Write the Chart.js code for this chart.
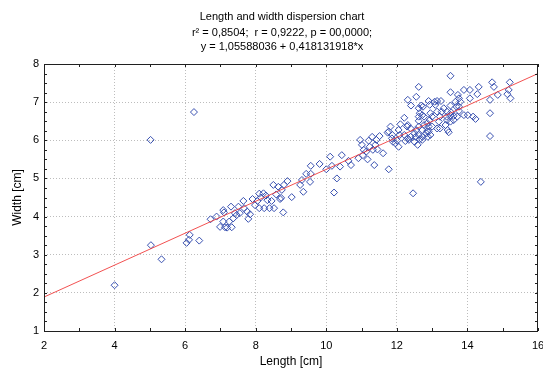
<!doctype html>
<html>
<head>
<title>Length and width dispersion chart</title>
<script src="https://cdn.jsdelivr.net/npm/chart.js@4.4.0/dist/chart.umd.min.js"></script>
<style>body{margin:0;background:#fff}</style>
</head>
<body>
<canvas id="canvas" width="543" height="370"></canvas>
<script>
var titleLines = [
	"Length and width dispersion chart",
	"r\u00b2 = 0,8504;  r = 0,9222, p = 00,0000;",
	"y = 1,05588036 + 0,418131918*x"
];

// length [cm]
var lengthCm = [
	4.00, 5.03, 5.33, 5.02, 6.25, 6.04, 6.11, 6.13, 6.40, 6.72, 6.89, 6.99, 7.08, 7.08, 7.13, 7.10,
	7.19, 7.25, 7.30, 7.32, 7.36, 7.41, 7.46, 7.51, 7.55, 7.65, 7.67, 7.76, 7.79, 7.84, 7.91, 7.98,
	8.05, 8.10, 8.10, 8.14, 8.22, 8.24, 8.29, 8.33, 8.39, 8.45, 8.50, 8.52, 8.58, 8.64, 8.69, 8.78,
	8.80, 8.90, 8.72, 8.74, 9.02, 9.26, 9.31, 9.35, 9.43, 9.54, 9.56, 9.56, 9.81, 10.00, 10.11, 10.16,
	10.22, 10.30, 10.39, 10.44, 10.63, 10.70, 10.91, 10.96, 11.01, 11.04, 11.06, 11.13, 11.17, 11.20, 11.23, 11.30,
	11.32, 11.36, 11.39, 11.42, 11.45, 11.51, 11.61, 11.74, 11.77, 11.82, 11.87, 11.96, 12.01, 12.05, 12.05, 12.46,
	14.38, 13.52, 12.62, 12.31, 12.55, 12.40, 12.62, 12.69, 12.74, 12.65, 12.72, 12.90, 12.93, 12.95, 13.07, 13.09,
	13.14, 13.25, 13.33, 13.42, 13.52, 13.52, 13.54, 13.66, 13.69, 13.73, 13.76, 13.80, 13.76, 13.90, 14.07, 14.07,
	14.28, 14.32, 14.64, 14.70, 14.75, 14.86, 15.13, 15.20, 15.22, 15.17, 14.64, 14.64, 13.90, 14.01, 14.16, 14.23,
	13.47, 13.52, 13.41, 13.42, 13.22, 13.27, 13.14, 13.00, 12.93, 12.77, 12.62, 12.62, 12.77, 12.86, 12.90, 13.00,
	12.86, 12.72, 12.62, 12.21, 12.10, 12.31, 12.39, 12.50, 12.55, 12.62, 12.65, 12.72, 12.84, 12.90, 12.95, 12.88,
	12.72, 12.53, 12.50, 12.59, 13.19, 13.38, 13.44, 13.61, 13.71, 13.76, 13.52, 13.61, 13.22, 13.14, 12.08, 11.86,
	12.31, 12.34, 12.21, 12.39, 11.89, 12.24, 11.77, 12.29
];

// width [cm]
var widthCm = [
	2.20, 3.25, 2.88, 6.01, 6.74, 3.31, 3.39, 3.52, 3.37, 3.93, 4.00, 3.73, 4.17, 3.87, 3.72, 4.11,
	3.71, 3.87, 4.26, 3.72, 3.95, 4.09, 4.04, 4.26, 4.09, 4.41, 4.22, 4.13, 3.94, 4.06, 4.46, 4.30,
	4.41, 4.60, 4.22, 4.50, 4.61, 4.22, 4.55, 4.43, 4.22, 4.41, 4.83, 4.22, 4.58, 4.78, 4.46, 4.11,
	4.83, 4.93, 4.49, 4.70, 4.51, 4.83, 4.96, 4.65, 5.12, 4.91, 5.12, 5.33, 5.38, 5.24, 5.57, 5.33,
	4.63, 5.00, 5.31, 5.61, 5.46, 5.35, 5.53, 6.01, 5.88, 5.61, 5.75, 5.70, 5.50, 5.99, 5.83, 6.09,
	5.75, 5.35, 5.88, 6.01, 5.76, 6.11, 5.66, 6.20, 5.24, 6.36, 6.14, 5.92, 5.99, 6.27, 5.83, 4.61,
	4.91, 7.69, 7.40, 7.06, 7.14, 6.91, 6.84, 6.91, 6.88, 6.71, 6.66, 7.03, 6.93, 6.71, 7.01, 6.93,
	7.03, 7.03, 6.84, 6.75, 7.26, 6.91, 6.73, 7.01, 6.88, 7.19, 7.10, 7.01, 6.88, 7.32, 7.32, 7.10,
	7.21, 7.40, 7.06, 7.52, 7.40, 7.19, 7.21, 7.52, 7.10, 7.32, 6.71, 6.11, 6.66, 6.66, 6.62, 6.56,
	6.21, 6.66, 6.62, 6.53, 6.62, 6.75, 6.75, 6.62, 6.53, 6.62, 6.62, 6.51, 6.40, 6.45, 6.36, 6.36,
	6.24, 6.27, 6.36, 6.59, 6.42, 6.40, 6.31, 6.18, 6.27, 6.14, 6.03, 6.01, 6.18, 6.23, 6.14, 6.09,
	6.09, 6.09, 5.96, 5.88, 6.49, 6.40, 6.27, 6.64, 6.62, 6.77, 6.49, 6.53, 6.31, 6.31, 6.14, 6.05,
	6.05, 6.01, 6.14, 6.09, 5.96, 5.98, 6.23, 6.36
];

// regression line end points
var fitX = [2, 16];
var fitY = [1.89, 7.75];

var xMin = 2, xMax = 16;
var yMin = 1, yMax = 8;

var scatterData = lengthCm.map(function(v, i){ return {x: v, y: widthCm[i]}; });
var fitData = fitX.map(function(v, i){ return {x: v, y: fitY[i]}; });

var framePlugin = {
	id: 'frame',
	afterDraw: function(chart){
		var ctx = chart.ctx, a = chart.chartArea;
		var xs = chart.scales.x, ys = chart.scales.y;
		ctx.save();
		ctx.strokeStyle = '#202020';
		ctx.lineWidth = 1;
		ctx.beginPath();
		for (var v = yMin; v <= yMax; v += 0.25) {
			var py = Math.round(ys.getPixelForValue(v)) + 0.5;
			ctx.moveTo(a.left, py); ctx.lineTo(a.left + 3, py);
			ctx.moveTo(a.right, py); ctx.lineTo(a.right - 3, py);
		}
		for (var u = xMin; u <= xMax; u += 1) {
			var px = Math.round(xs.getPixelForValue(u)) + 0.5;
			ctx.moveTo(px, a.bottom); ctx.lineTo(px, a.bottom - 3);
			ctx.moveTo(px, a.top); ctx.lineTo(px, a.top + 3);
		}
		ctx.stroke();
		ctx.strokeRect(Math.round(a.left) + 0.5, Math.round(a.top) + 0.5,
			Math.round(a.right - a.left) - 1, Math.round(a.bottom - a.top));
		ctx.fillStyle = '#000';
		ctx.font = '11px "Liberation Sans", Arial, sans-serif';
		ctx.textAlign = 'center';
		ctx.textBaseline = 'middle';
		var ty = [17, 32.5, 47];
		for (var i = 0; i < titleLines.length; i++) {
			ctx.fillText(titleLines[i], 282, ty[i]);
		}
		ctx.restore();
	}
};

var font = {family: '"Liberation Sans", Arial, sans-serif', size: 11};
var titleFont = {family: '"Liberation Sans", Arial, sans-serif', size: 12};

window.onload = function(){
	var ctx = document.getElementById("canvas").getContext("2d");
	window.myChart = new Chart(ctx, {
		type: 'scatter',
		data: {
			datasets: [
				{
					type: 'line',
					data: fitData,
					borderColor: 'rgba(240,50,50,0.85)',
					borderWidth: 1,
					pointRadius: 0,
					fill: false
				},
				{
					data: scatterData,
					pointStyle: 'rectRot',
					pointRadius: 3.5,
					borderColor: '#3850b0',
					backgroundColor: 'rgba(255,255,255,0)',
					borderWidth: 1
				}
			]
		},
		options: {
			responsive: false,
			animation: false,
			events: [],
			layout: {padding: {top: 64, right: 5, left: 0, bottom: 0}},
			plugins: {legend: {display: false}, tooltip: {enabled: false}, title: {display: false}},
			scales: {
				x: {
					type: 'linear', min: xMin, max: xMax,
					grid: {
						drawTicks: false,
						color: function(c){
							var v = c.tick ? c.tick.value : 0;
							return (v % 2 === 0 && v > xMin && v < xMax) ? '#bdbdbd' : 'rgba(0,0,0,0)';
						}
					},
					border: {display: false, dash: [1, 2]},
					ticks: {
						stepSize: 1, color: '#000', font: font, padding: 8, maxRotation: 0, autoSkip: false,
						callback: function(v){ return v % 2 === 0 ? String(v) : ''; }
					},
					title: {display: true, text: 'Length [cm]', color: '#000', font: titleFont, padding: {top: 0, bottom: 1}},
					afterFit: function(s){ s.height = 39; s.paddingLeft = 0; s.paddingRight = 0; }
				},
				y: {
					type: 'linear', min: yMin, max: yMax,
					grid: {
						drawTicks: false,
						color: function(c){
							var v = c.tick ? c.tick.value : 0;
							return (v > yMin && v < yMax) ? '#bdbdbd' : 'rgba(0,0,0,0)';
						}
					},
					border: {display: false, dash: [1, 2]},
					ticks: {stepSize: 1, color: '#000', font: font, padding: 5},
					title: {display: true, text: 'Width [cm]', color: '#000', font: titleFont, padding: {top: 10, bottom: 0}},
					afterFit: function(s){ s.width = 44; }
				}
			}
		},
		plugins: [framePlugin]
	});
};
</script>
</body>
</html>
